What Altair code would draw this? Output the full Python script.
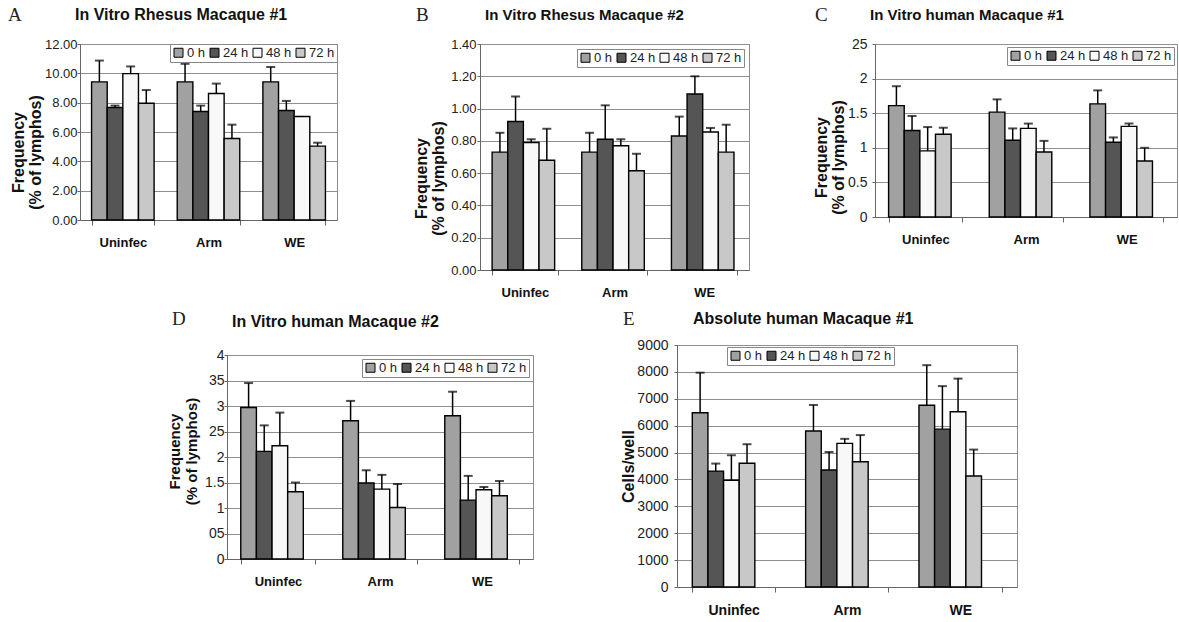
import altair as alt
import pandas as pd

GROUPS = ["Uninfec", "Arm", "WE"]
TIMES = ["0 h", "24 h", "48 h", "72 h"]
COLORS = ["#a1a1a1", "#555555", "#f8f8f8", "#c8c8c8"]

# Panel A
A_MEAN = [[9.42, 7.67, 9.98, 7.96], [9.42, 7.40, 8.63, 5.56], [9.42, 7.47, 7.06, 5.04]]
A_ERR = [[1.45, 0.13, 0.49, 0.90], [1.23, 0.40, 0.67, 0.94], [1.01, 0.65, 0.0, 0.23]]
A_TICKS = [0, 2, 4, 6, 8, 10, 12]
A_LABELS = ["0.00", "2.00", "4.00", "6.00", "8.00", "10.00", "12.00"]

# Panel B
B_MEAN = [[0.73, 0.92, 0.79, 0.68], [0.73, 0.81, 0.77, 0.615], [0.83, 1.09, 0.855, 0.73]]
B_ERR = [[0.12, 0.155, 0.02, 0.195], [0.12, 0.21, 0.04, 0.105], [0.12, 0.11, 0.025, 0.17]]
B_TICKS = [0, 0.2, 0.4, 0.6, 0.8, 1.0, 1.2, 1.4]
B_LABELS = ["0.00", "0.20", "0.40", "0.60", "0.80", "1.00", "1.20", "1.40"]

# Panel C
C_MEAN = [[1.61, 1.25, 0.955, 1.195], [1.515, 1.11, 1.28, 0.94], [1.635, 1.08, 1.31, 0.81]]
C_ERR = [[0.28, 0.21, 0.345, 0.095], [0.185, 0.17, 0.07, 0.16], [0.195, 0.07, 0.04, 0.19]]
C_TICKS = [0, 0.5, 1, 1.5, 2, 2.5]
C_LABELS = ["0", "0.5", "1", "1.5", "2", "25"]

# Panel D
D_MEAN = [[2.97, 2.11, 2.22, 1.32], [2.71, 1.49, 1.37, 1.01], [2.81, 1.155, 1.357, 1.24]]
D_ERR = [[0.48, 0.51, 0.65, 0.18], [0.39, 0.25, 0.28, 0.46], [0.47, 0.475, 0.055, 0.29]]
D_TICKS = [0, 0.5, 1, 1.5, 2, 2.5, 3, 3.5, 4]
D_LABELS = ["0", "05", "1", "1.5", "2", "25", "3", "35", "4"]

# Panel E
E_MEAN = [[6480, 4310, 3970, 4600], [5800, 4350, 5340, 4660], [6760, 5870, 6520, 4130]]
E_ERR = [[1490, 280, 930, 710], [970, 670, 170, 990], [1490, 1600, 1230, 980]]
E_TICKS = [0, 1000, 2000, 3000, 4000, 5000, 6000, 7000, 8000, 9000]
E_LABELS = ["0", "1000", "2000", "3000", "4000", "5000", "6000", "7000", "8000", "9000"]

FREQ_TITLE = ["Frequency", "(% of lymphos)"]
FONT = "Liberation Sans"
ONE = pd.DataFrame({"k": [0]})


def label_expr(ticks, labels):
    parts = [f"abs(datum.value - {v}) < 1e-6 ? '{l}' : " for v, l in zip(ticks, labels)]
    return "".join(parts) + "''"


def header_layers(letter, title, g):
    lx, ly = g["letter"]
    tx, ty = g["title"]
    letter_t = alt.Chart(ONE).mark_text(
        text=letter, align="left", baseline="middle", font="Liberation Serif", fontSize=19, color="#222"
    ).encode(x=alt.value(lx), y=alt.value(ly))
    title_t = alt.Chart(ONE).mark_text(
        text=title, align="left", baseline="middle", font=FONT, fontSize=g["hfs"], fontWeight="bold", color="#111"
    ).encode(x=alt.value(tx), y=alt.value(ty))
    return [letter_t, title_t]


def anchor_layer(ax, ay1, ay2):
    return alt.Chart(ONE).mark_rule(color="white", strokeWidth=1).encode(
        x=alt.value(ax), y=alt.value(ay1), y2=alt.value(ay2)
    )


def make_legend(g):
    common = dict(
        title=None, direction="horizontal",
        symbolType="square", symbolSize=81, symbolStrokeColor="black", symbolStrokeWidth=1,
        labelFont=FONT, labelFontSize=13, labelColor="#222", labelOffset=2,
        columnPadding=2, padding=2, strokeColor="#888", fillColor="white",
    )
    if g["leg"][0] == "tr":
        return alt.Legend(orient="top-right", offset=g["leg"][1], **common)
    return alt.Legend(orient="none", legendX=g["leg"][0], legendY=g["leg"][1], **common)


def panel(letter, title, mean, err, ticks, labels, ytitle, g, with_header=True):
    rows = []
    for gi, grp in enumerate(GROUPS):
        for ti, t in enumerate(TIMES):
            m = mean[gi][ti]
            e = err[gi][ti]
            rows.append({"group": grp, "time": t, "mean": m, "err": e, "top": m + e})
    df = pd.DataFrame(rows)
    dfe = df[df["err"] > 0]
    w, h = g["size"]

    yscale = alt.Scale(domain=[ticks[0], ticks[-1]], nice=False, zero=True)
    yaxis = alt.Axis(
        values=ticks, labelExpr=label_expr(ticks, labels), title=ytitle,
        titleX=g["tx"], titleY=g["ty"], titleAngle=270, titleBaseline="top",
        titleAlign="center", titleFont=FONT, titleFontSize=g["tfs"], titleFontWeight="bold",
        titleLineHeight=17, titleColor="#111",
        labelFont=FONT, labelFontSize=g["lfs"], labelColor="#222",
        tickSize=3, tickColor="#666", labelPadding=g["lp"],
        domainColor="#666", grid=True, gridColor="#8f8f8f", gridWidth=1,
    )
    xaxis = alt.Axis(
        title=None, labelAngle=0, labelFont=FONT, labelFontSize=g["xfs"],
        labelFontWeight="bold", labelColor="#111", tickBand="extent", tickSize=5,
        tickColor="#666", domainColor="#666", labelPadding=11, grid=False,
    )
    x_enc = alt.X("group:N", sort=GROUPS, axis=xaxis,
                  scale=alt.Scale(paddingInner=0.27, paddingOuter=0.135))
    xo = alt.XOffset("time:N", sort=TIMES, scale=alt.Scale(paddingInner=0, paddingOuter=0))

    bars = alt.Chart(df).mark_bar(stroke="black", strokeWidth=1.4).encode(
        x=x_enc, xOffset=xo,
        y=alt.Y("mean:Q", scale=yscale, axis=yaxis),
        color=alt.Color("time:N", sort=TIMES, scale=alt.Scale(domain=TIMES, range=COLORS),
                        legend=make_legend(g)),
    )
    rules = alt.Chart(dfe).mark_rule(color="black", strokeWidth=1.5).encode(
        x=x_enc, xOffset=xo,
        y=alt.Y("mean:Q", scale=yscale, axis=yaxis), y2=alt.Y2("top:Q"),
    )
    caps = alt.Chart(dfe).mark_tick(color="black", size=9, thickness=2).encode(
        x=x_enc, xOffset=xo,
        y=alt.Y("top:Q", scale=yscale, axis=yaxis),
    )
    layers = [bars, rules, caps, anchor_layer(*g["anchor"])]
    if with_header:
        layers += header_layers(letter, title, g)
    return alt.layer(*layers).properties(width=w, height=h)


GEO = {
    "A": dict(size=(257, 176), anchor=(-79, -43, 258), tx=-70, ty=108, tfs=16, lfs=13, lp=0,
              xfs=13, leg=("tr", 0), letter=(-72, -29), title=(-5, -29), hfs=16),
    "B": dict(size=(269, 226), anchor=(-131, -43, 258), tx=-67, ty=134, tfs=16, lfs=13, lp=1,
              xfs=13, leg=("tr", 5), letter=(-64, -29), title=(5, -29), hfs=15),
    "C": dict(size=(302, 173), anchor=(-114, -43, 258), tx=-62, ty=113, tfs=16, lfs=14, lp=5,
              xfs=13, leg=("tr", 3), letter=(-60, -29), title=(-5, -29), hfs=15),
    "D": dict(size=(306, 204), anchor=(-134, 0, 204), tx=-60, ty=96, tfs=15, lfs=14, lp=0,
              xfs=13, leg=("tr", 4), letter=(-55, -26), title=(5, -23), hfs=16),
    "E": dict(size=(340, 242), anchor=(-132, -38, 250), tx=-57, ty=121, tfs=16, lfs=14, lp=6,
              xfs=14, leg=(50, 2), letter=(-54, -26), title=(16, -26), hfs=16),
}

pA = panel("A", "In Vitro Rhesus Macaque #1", A_MEAN, A_ERR, A_TICKS, A_LABELS, FREQ_TITLE, GEO["A"])
pB = panel("B", "In Vitro Rhesus Macaque #2", B_MEAN, B_ERR, B_TICKS, B_LABELS, FREQ_TITLE, GEO["B"])
pC = panel("C", "In Vitro human Macaque #1", C_MEAN, C_ERR, C_TICKS, C_LABELS, FREQ_TITLE, GEO["C"])
pD = panel("D", "In Vitro human Macaque #2", D_MEAN, D_ERR, D_TICKS, D_LABELS, FREQ_TITLE, GEO["D"],
           with_header=False)
pE = panel("E", "Absolute human Macaque #1", E_MEAN, E_ERR, E_TICKS, E_LABELS, "Cells/well", GEO["E"])

# header strip carrying D's letter and title, placed just above panel D
d_head = alt.layer(*header_layers("D", "In Vitro human Macaque #2", GEO["D"])).properties(
    width=306, height=1, view=alt.ViewBackground(stroke="transparent")
)
d_col = alt.vconcat(d_head, pD, spacing=0).resolve_scale(color="independent").resolve_legend(color="independent")

# thin spacer at the left of the lower row
spacer = alt.Chart(ONE).mark_rule(color="white", strokeWidth=1).encode(
    x=alt.value(0), y=alt.value(0), y2=alt.value(1)
).properties(width=1, height=1, view=alt.ViewBackground(stroke="transparent"))

top = alt.hconcat(pA, pB, pC, spacing=10).resolve_scale(color="independent").resolve_legend(color="independent")
bottom = alt.hconcat(spacer, d_col, pE, spacing=10).resolve_scale(color="independent").resolve_legend(color="independent")

chart = (
    alt.vconcat(top, bottom, spacing=3)
    .resolve_scale(color="independent")
    .resolve_legend(color="independent")
    .properties(padding={"left": 0, "top": 0, "right": 0, "bottom": 0}, background="white")
    .configure_view(stroke="#8a8a8a", strokeWidth=1)
)

chart.save("out.html", embed_options={"renderer": "svg", "actions": False})
